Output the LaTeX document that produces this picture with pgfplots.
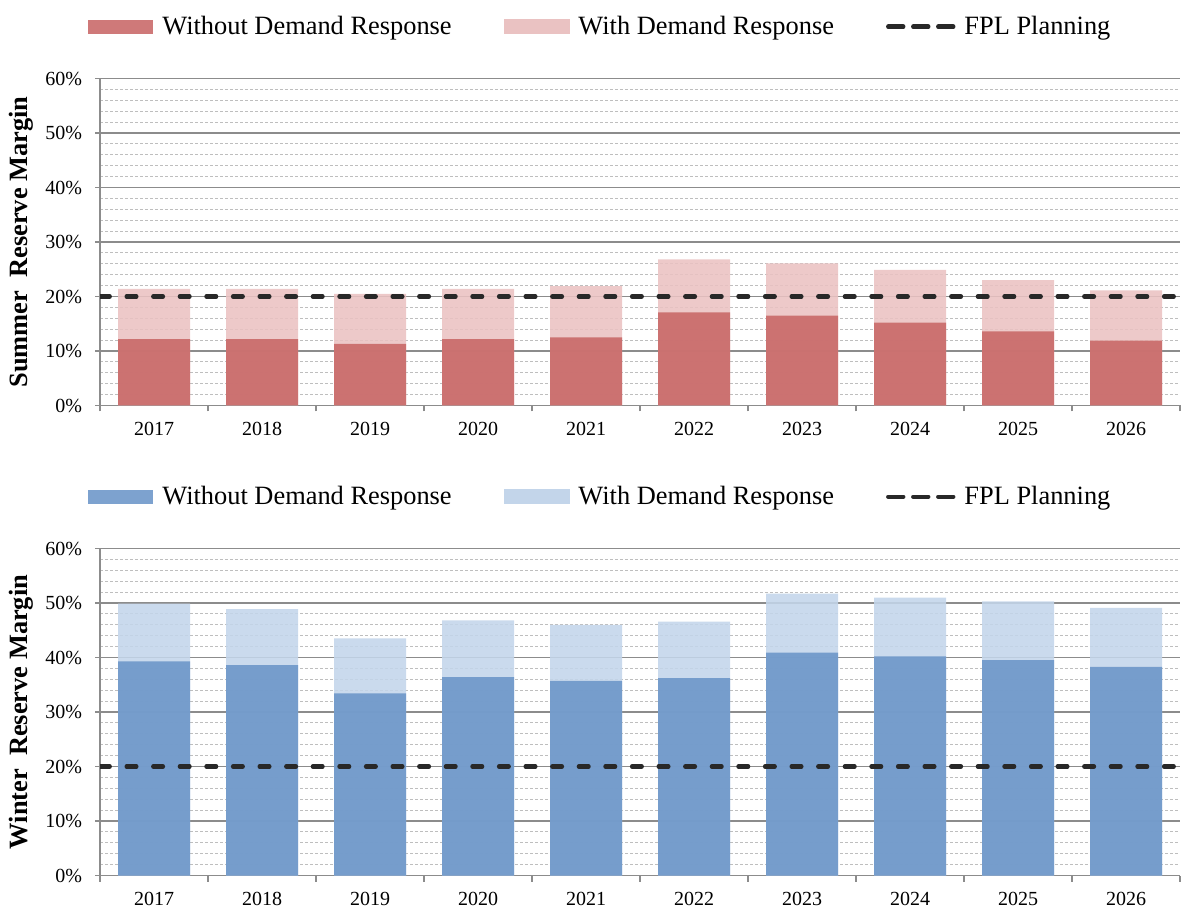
\documentclass[border=0pt]{standalone}
\usepackage{pgfplots}
\pgfplotsset{compat=1.18}
\usepackage{pgfplotstable}
\usepackage{fontspec}
\setmainfont{Liberation Serif}

\definecolor{sumdark}{RGB}{200,103,102}
\definecolor{sumlight}{RGB}{234,194,194}
\definecolor{windark}{RGB}{107,149,200}
\definecolor{winlight}{RGB}{195,213,234}
\definecolor{fpl}{RGB}{40,40,40}
\definecolor{majgrid}{RGB}{140,140,140}
\definecolor{mingrid}{RGB}{190,190,190}

% x = category position, with = with demand response, without = without demand response
\pgfplotstableread{
x    with  without
0.5  21.4  12.2
1.5  21.4  12.2
2.5  20.5  11.3
3.5  21.4  12.2
4.5  21.9  12.5
5.5  26.8  17.1
6.5  26.1  16.5
7.5  24.9  15.2
8.5  23.0  13.6
9.5  21.1  11.9
}\summer

\pgfplotstableread{
x    with  without
0.5  49.9  39.3
1.5  48.9  38.6
2.5  43.5  33.4
3.5  46.8  36.4
4.5  46.0  35.7
5.5  46.6  36.2
6.5  51.7  40.9
7.5  51.0  40.2
8.5  50.3  39.5
9.5  49.1  38.3
}\winter

\pgfplotsset{
  rm/.style={
    scale only axis,
    width=540pt, height=163.5pt,
    xmin=0, xmax=10, ymin=0, ymax=60,
    axis x line*=bottom, axis y line*=left,
    axis line style={-, majgrid, line width=0.7pt},
    xtick={0.5,1.5,...,9.5},
    xticklabels={2017,2018,2019,2020,2021,2022,2023,2024,2025,2026},
    ytick={0,10,...,60},
    yticklabel={\pgfmathprintnumber{\tick}\%},
    /pgf/number format/assume math mode=true,
    major tick length=0pt, minor tick length=0pt,
    minor y tick num=4,
    ymajorgrids, yminorgrids,
    major grid style={majgrid, line width=0.7pt},
    minor grid style={mingrid, line width=0.45pt, dash pattern=on 1.5pt off 1pt},
    extra x ticks={0,1,...,10},
    extra x tick labels={},
    extra x tick style={grid=none, major tick length=3pt, tick align=outside, tick style={majgrid, line width=0.7pt}},
    extra y ticks={0,10,...,60},
    extra y tick labels={},
    extra y tick style={grid=none, major tick length=2.5pt, tick align=outside, tick style={majgrid, line width=0.7pt}},
    tick label style={font=\fontsize{10}{12}\selectfont, text=black},
    xticklabel style={yshift=-4.8pt},
    yticklabel style={xshift=-5.5pt},
    ylabel style={at={(axis description cs:-0.0731,0.5)}, anchor=center, rotate=0, font=\fontsize{13.2}{15}\selectfont\bfseries},
    legend columns=3,
    legend style={at={(axis description cs:0,1)}, anchor=west, xshift=-6pt, yshift=25.9pt,
      draw=none, fill=none, inner sep=0pt, nodes={inner sep=0pt},
      font=\fontsize{13.2}{15}\selectfont,
      /tikz/every odd column/.append style={column sep=4.5pt},
      /tikz/every even column/.append style={column sep=26pt}},
  },
  barleg/.style={legend image code/.code={\fill[#1] (0pt,-3.5pt) rectangle (32.5pt,3.5pt);}},
  dashleg/.style={legend image code/.code={\draw[fpl, line width=2.2pt, dash pattern=on 7.5pt off 5pt] (0pt,0pt) -- (32.5pt,0pt);}},
  fplline/.style={fpl, line width=2.1pt, dash pattern=on 4.9pt off 8.4pt, line cap=round},
}

\begin{document}
\begin{tikzpicture}
\useasboundingbox (0,0) rectangle (590.5pt,454.5pt);

\begin{axis}[rm, at={(50pt,251.75pt)}, anchor=south west, ylabel={Summer~ Reserve Margin}]
\addplot[ybar, bar width=36pt, bar shift=0pt, fill=sumlight, draw=none, fill opacity=0.88, forget plot] table[x=x, y=with] {\summer};
\addplot[ybar, bar width=36pt, bar shift=0pt, fill=sumdark, draw=none, fill opacity=0.88, barleg={sumdark}] table[x=x, y=without] {\summer};
\addlegendentry{Without Demand Response}
\addlegendimage{barleg={sumlight}}
\addlegendentry{With Demand Response}
\addplot[fplline, dashleg] coordinates {(0,20) (10,20)};
\addlegendentry{FPL Planning}
\end{axis}

\begin{axis}[rm, at={(50pt,16.75pt)}, anchor=south west, ylabel={Winter~ Reserve Margin}]
\addplot[ybar, bar width=36pt, bar shift=0pt, fill=winlight, draw=none, fill opacity=0.88, forget plot] table[x=x, y=with] {\winter};
\addplot[ybar, bar width=36pt, bar shift=0pt, fill=windark, draw=none, fill opacity=0.88, barleg={windark}] table[x=x, y=without] {\winter};
\addlegendentry{Without Demand Response}
\addlegendimage{barleg={winlight}}
\addlegendentry{With Demand Response}
\addplot[fplline, dashleg] coordinates {(0,20) (10,20)};
\addlegendentry{FPL Planning}
\end{axis}
\end{tikzpicture}
\end{document}
